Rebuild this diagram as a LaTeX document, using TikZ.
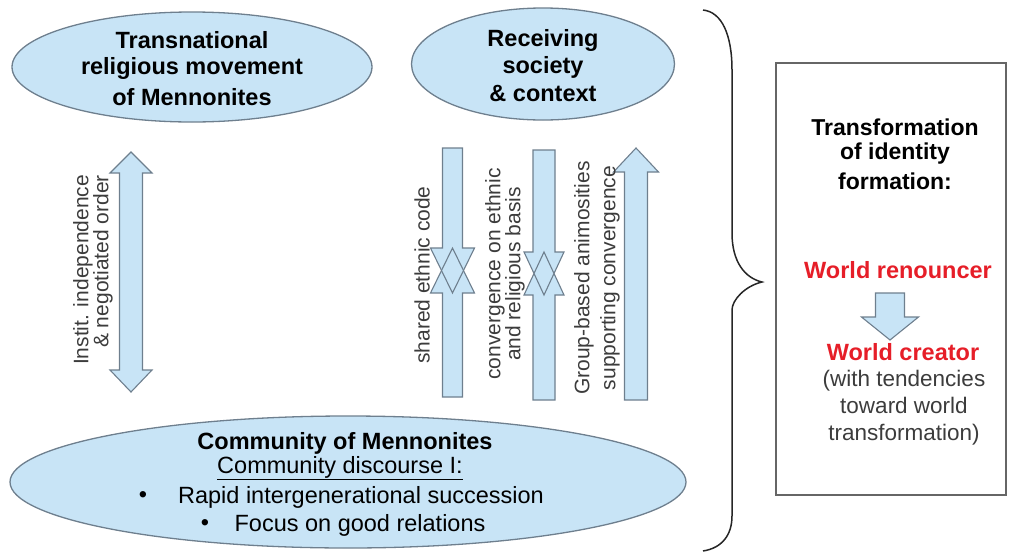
\documentclass[tikz,border=0pt]{standalone}
\usepackage{fontspec}
\setmainfont{Liberation Sans}
\usetikzlibrary{shapes.geometric}
\definecolor{bluef}{HTML}{C8E4F6}
\definecolor{edgec}{HTML}{6E7F8E}
\definecolor{labelc}{HTML}{3C3C3C}
\definecolor{redc}{HTML}{E61E28}
\newcommand\blkArrow[7]{\path[#7] (#1-#5,#2) -- (#1+#5,#2) -- (#1+#5,#3) -- (#1+#6,#3) -- (#1,#4) -- (#1-#6,#3) -- (#1-#5,#3) -- cycle;}
\begin{document}
\begin{tikzpicture}[x=1pt,y=-1pt,
  blob/.style={ellipse, draw=edgec, fill=bluef, line width=1.3pt, inner sep=0pt},
  boldtxt/.style={font=\fontsize{23.5}{28}\selectfont\bfseries, align=center, inner sep=0pt},
  plaintxt/.style={font=\fontsize{23.5}{28}\selectfont, align=center, inner sep=0pt},
  rottxt/.style={font=\fontsize{21}{20}\selectfont, text=labelc, rotate=90, align=center, inner sep=0pt},
  arrfill/.style={fill=bluef, draw=none},
  arrline/.style={draw=edgec, line width=1.1pt, line join=miter},
]
\useasboundingbox (0,0) rectangle (1010,555);

% ellipses
\node[blob, minimum width=360pt, minimum height=110pt] (trans) at (192,67) {};
\node[blob, minimum width=263pt, minimum height=112pt] (recv) at (543,64) {};
\node[blob, minimum width=676pt, minimum height=132pt] (comm) at (348,482) {};

\node[boldtxt] (t1) at (192,40) {Transnational};
\node[boldtxt] (t2) at (192,68) {religious movement};
\node[boldtxt] (t3) at (192,97) {of Mennonites};

\node[boldtxt] (r1) at (543,40) {Receiving};
\node[boldtxt] (r2) at (543,67) {society};
\node[boldtxt] (r3) at (543,93) {\& context};

\node[boldtxt] (c1) at (345,443) {Community of Mennonites};
\node[plaintxt] (c2) at (340,468) {\underline{Community discourse I:}};
\node[plaintxt] (b1) at (143,497) {\textbullet};
\node[plaintxt] (c3) at (361,497) {Rapid intergenerational succession};
\node[plaintxt] (b2) at (205,525) {\textbullet};
\node[plaintxt] (c4) at (360,525) {Focus on good relations};

% left double arrow
\path[arrfill] (119.5,173) -- (119.5,370) -- (110,370) -- (131,392) -- (152,370) -- (142.5,370) -- (142.5,173) -- (152,173) -- (131,152) -- (110,173) -- (119.5,173) -- cycle;
\path[arrline] (119.5,173) -- (119.5,370) -- (110,370) -- (131,392) -- (152,370) -- (142.5,370) -- (142.5,173) -- (152,173) -- (131,152) -- (110,173) -- cycle;
\node[rottxt, align=right] (lbl0) at (93,270) {Instit. independence\\\& negotiated order};

% middle arrows: fills first
\blkArrow{452.5}{148}{248}{293}{10}{22}{arrfill}
\blkArrow{452.5}{397}{293}{248}{10}{22}{arrfill}
\blkArrow{544}{150}{252}{295}{11}{20}{arrfill}
\blkArrow{544}{400}{295}{252}{11}{20}{arrfill}
\blkArrow{636}{400}{172}{148}{11.5}{22.5}{arrfill}
% outlines
\blkArrow{452.5}{148}{248}{293}{10}{22}{arrline}
\blkArrow{452.5}{397}{293}{248}{10}{22}{arrline}
\blkArrow{544}{150}{252}{295}{11}{20}{arrline}
\blkArrow{544}{400}{295}{252}{11}{20}{arrline}
\blkArrow{636}{400}{172}{148}{11.5}{22.5}{arrline}

\node[rottxt] (lbl1) at (422,275) {shared ethnic code};
\node[rottxt] (lbl2) at (505,274) {convergence on ethnic\\and religious basis};
\node[rottxt, font=\fontsize{21}{26}\selectfont] (lbl3) at (597,278) {Group-based animosities\\supporting convergence};

% brace
\draw[line width=1.5pt, black!85] (703,10) .. controls (722,12) and (732,35) .. (732,70) -- (732,233) .. controls (732,262) and (745,278) .. (762,282) .. controls (745,286) and (732,300) .. (732,310) -- (732,516) .. controls (732,535) and (722,548) .. (703,551);

% right box
\node[draw=black!60, line width=1.5pt, minimum width=230pt, minimum height=432pt, inner sep=0pt] (box) at (891,279) {};
\node[boldtxt, font=\fontsize{23}{28}\selectfont\bfseries] (f1) at (895,127) {Transformation};
\node[boldtxt, font=\fontsize{23}{28}\selectfont\bfseries] (f2) at (895,154) {of identity};
\node[boldtxt, font=\fontsize{23}{28}\selectfont\bfseries] (f3) at (895,181) {formation:};
\node[boldtxt, text=redc] (w1) at (898,270) {World renouncer};
\path[fill=bluef, draw=edgec, line width=1.1pt] (875.5,293) -- (904.5,293) -- (904.5,317) -- (918.5,317) -- (890,340) -- (861.5,317) -- (875.5,317) -- cycle;
\node[boldtxt, text=redc] (w2) at (903,352) {World creator};
\node[plaintxt, font=\fontsize{22.5}{27}\selectfont, text=labelc] (w3) at (904,408) {(with tendencies\\toward world\\transformation)};
\end{tikzpicture}
\end{document}
